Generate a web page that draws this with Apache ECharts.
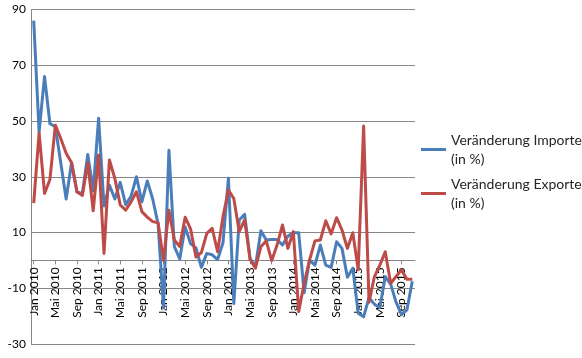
<!DOCTYPE html>
<html>
<head>
<meta charset="utf-8">
<script src="https://cdn.jsdelivr.net/npm/echarts@6/dist/echarts.min.js"></script>
<style>
html,body{margin:0;padding:0;background:#fff;}
#c{width:582px;height:358px;}
</style>
</head>
<body>
<div id="c"></div>
<script>
var monthNames = ['Jan','Feb','Mrz','Apr','Mai','Jun','Jul','Aug','Sep','Okt','Nov','Dez'];
var years = [2010, 2011, 2012, 2013, 2014, 2015];
var lastMonthCount = 11; // data runs Jan 2010 – Nov 2015

var importe = [
  86, 46, 66, 49, 48, 35, 22, 35, 24.5, 24, 38, 25,
  51, 19.5, 27, 22, 28, 20, 23, 30, 21, 28.5, 22, 13,
  -17, 39.5, 5, 0.5, 12, 6, 4.5, -2.5, 2.5, 2, 0.3, 6.3,
  29.5, -15.5, 14.5, 16.5, 0.7, -2.3, 10.6, 7.3, 7.5, 7.5, 5.5, 8.7,
  9.9, 9.9, -11.6, 0.1, -1.7, 5.5, -1.7, -2.5, 6.7, 4.3, -6, -2.8,
  -19, -20.2, -13.4, -15.7, -17, -5.8, -8.5, -15, -19.5, -17.8, -7.5
];
var exporte = [
  20.5, 45.7, 24, 29, 48.5, 43.7, 38.4, 35, 24.6, 23.3, 35, 17.8,
  37.8, 2.5, 36, 29.4, 19.9, 18, 21, 24.6, 17.5, 15.5, 13.9, 13.5,
  0, 18, 7.3, 5, 15.5, 11.3, 1.2, 2.8, 9.7, 11.5, 3.1, 15.7,
  25.2, 22.2, 10.3, 14.5, 0.4, -2.8, 4.9, 7, -0.1, 5.5, 12.7, 4.3,
  10.3, -18.4, -8.2, 0.1, 7, 7.3, 14.2, 9.5, 15.3, 10.9, 4.3, 9.9,
  -3.4, 48.2, -15, -5.8, -1.7, 3.1, -8.2, -5.8, -3.4, -6.8, -6.8
];
var seriesNames = ['Veränderung Importe (in %)', 'Veränderung Exporte (in %)'];
var yMin = -30, yMax = 90, yStep = 20;

var categories = [];
years.forEach(function (y, yi) {
  var n = (yi === years.length - 1) ? lastMonthCount : 12;
  for (var m = 0; m < n; m++) categories.push(monthNames[m] + ' ' + y);
});

var W = 582, H = 358;
var gridTop = 9.5, gridBottom = 14, gridLeft = 31, gridRight = 167;
var plotH = H - gridTop - gridBottom;
// move the category axis up from the bottom of the plot to the value 0
var zeroOffset = -((0 - yMin) / (yMax - yMin)) * plotH;

var font = 'Lato';
var chart = echarts.init(document.getElementById('c'), null, {renderer: 'canvas'});
chart.setOption({
  animation: false,
  backgroundColor: '#ffffff',
  grid: {left: gridLeft, right: gridRight, top: gridTop, bottom: gridBottom, containLabel: false, outerBoundsMode: 'none'},
  legend: {
    orient: 'vertical',
    left: 416,
    top: 116,
    itemWidth: 25,
    itemHeight: 3,
    itemGap: -13,
    icon: 'rect',
    data: seriesNames,
    formatter: function (name) {
      return name.replace(' (in %)', '\n(in %)');
    },
    textStyle: {
      fontFamily: font,
      fontSize: 14,
      color: '#262626',
      lineHeight: 19,
      padding: [19, 0, 0, 0]
    }
  },
  xAxis: {
    type: 'category',
    data: categories,
    boundaryGap: true,
    position: 'bottom',
    offset: zeroOffset,
    axisLine: {onZero: false, lineStyle: {color: '#868686', width: 1}},
    axisTick: {show: true, alignWithLabel: true, interval: 3, length: 4, lineStyle: {color: '#868686'}},
    axisLabel: {
      interval: 3,
      rotate: 90,
      margin: 7,
      fontFamily: font,
      fontSize: 12,
      color: '#000000'
    },
    splitLine: {show: false}
  },
  yAxis: {
    type: 'value',
    min: yMin,
    max: yMax,
    interval: yStep,
    axisLine: {show: true, lineStyle: {color: '#868686', width: 1}},
    axisTick: {show: false},
    axisLabel: {fontFamily: font, fontSize: 12, color: '#000000', margin: 5},
    splitLine: {show: true, lineStyle: {color: '#868686', width: 1}}
  },
  series: [
    {
      name: seriesNames[0],
      type: 'line',
      data: importe,
      showSymbol: false,
      symbol: 'none',
      lineStyle: {color: '#4A7EBB', width: 3, join: 'round'},
      itemStyle: {color: '#4A7EBB'}
    },
    {
      name: seriesNames[1],
      type: 'line',
      data: exporte,
      showSymbol: false,
      symbol: 'none',
      lineStyle: {color: '#BE4B48', width: 3, join: 'round'},
      itemStyle: {color: '#BE4B48'}
    }
  ]
});
</script>
</body>
</html>
